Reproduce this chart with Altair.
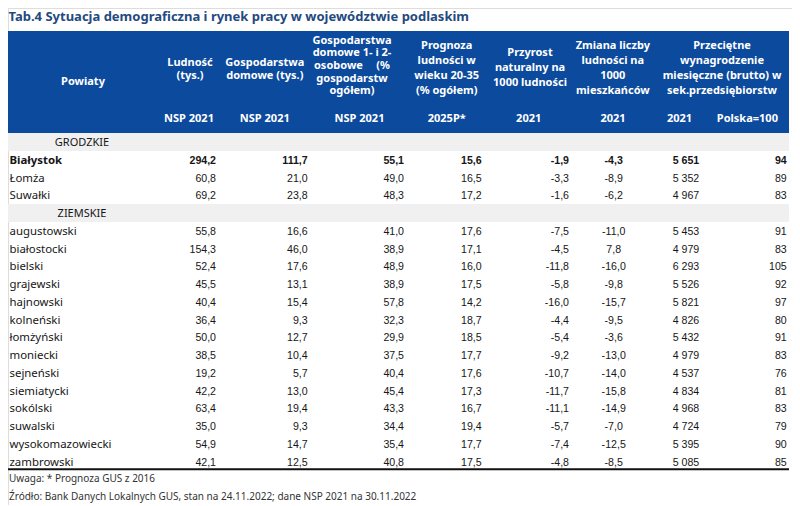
import altair as alt
import pandas as pd

# ---------------- data ----------------
title = "Tab.4 Sytuacja demograficzna i rynek pracy w województwie podlaskim"
group_labels = ["GRODZKIE", "ZIEMSKIE"]
powiaty = ["Białystok", "Łomża", "Suwałki",
           "augustowski", "białostocki", "bielski", "grajewski", "hajnowski",
           "kolneński", "łomżyński", "moniecki", "sejneński", "siemiatycki",
           "sokólski", "suwalski", "wysokomazowiecki", "zambrowski"]
ludnosc = [294.2, 60.8, 69.2, 55.8, 154.3, 52.4, 45.5, 40.4, 36.4, 50.0, 38.5,
           19.2, 42.2, 63.4, 35.0, 54.9, 42.1]
gospodarstwa = [111.7, 21.0, 23.8, 16.6, 46.0, 17.6, 13.1, 15.4, 9.3, 12.7, 10.4,
                5.7, 13.0, 19.4, 9.3, 14.7, 12.5]
gosp_1_2 = [55.1, 49.0, 48.3, 41.0, 38.9, 48.9, 38.9, 57.8, 32.3, 29.9, 37.5,
            40.4, 45.4, 43.3, 34.4, 35.4, 40.8]
prognoza = [15.6, 16.5, 17.2, 17.6, 17.1, 16.0, 17.5, 14.2, 18.7, 18.5, 17.7,
            17.6, 17.3, 16.7, 19.4, 17.7, 17.5]
przyrost = [-1.9, -3.3, -1.6, -7.5, -4.5, -11.8, -5.8, -16.0, -4.4, -5.4, -9.2,
            -10.7, -11.7, -11.1, -5.7, -7.4, -4.8]
zmiana = [-4.3, -8.9, -6.2, -11.0, 7.8, -16.0, -9.8, -15.7, -9.5, -3.6, -13.0,
          -14.0, -15.8, -14.9, -7.0, -12.5, -8.5]
wynagrodzenie = [5651, 5352, 4967, 5453, 4979, 6293, 5526, 5821, 4826, 5432, 4979,
                 4537, 4834, 4968, 4724, 5395, 5085]
polska100 = [94, 89, 83, 91, 83, 105, 92, 97, 80, 91, 83, 76, 81, 83, 79, 90, 85]

header_powiaty = "Powiaty"
header_ludnosc = ["Ludność", "(tys.)"]
header_gosp = ["Gospodarstwa", "domowe (tys.)"]
header_gosp12 = ["Gospodarstwa", "domowe 1- i 2-", "osobowe", "(%", "gospodarstw", "ogółem)"]
header_prognoza = ["Prognoza", "ludności w", "wieku 20-35", "(% ogółem)"]
header_przyrost = ["Przyrost", "naturalny na", "1000 ludności"]
header_zmiana = ["Zmiana liczby", "ludności na", "1000", "mieszkańców"]
header_wyn = ["Przeciętne", "wynagrodzenie", "miesięczne (brutto) w", "sek.przedsiębiorstw"]
subheaders = ["NSP 2021", "NSP 2021", "NSP 2021", "2025P*", "2021", "2021", "2021", "Polska=100"]
notes = ["Uwaga: * Prognoza GUS z 2016",
         "Źródło: Bank Danych Lokalnych GUS, stan na 24.11.2022; dane NSP 2021 na 30.11.2022"]

# ---------------- layout ----------------
BLUE = "#0b4a9d"
TITLE_C = "#24497f"
TXT = "#161616"
ROW0 = 143.0
ROWH = 17.75
LEFT, RIGHT = 8, 789


def fmt1(v):
    return f"{v:.1f}".replace(".", ",")


def fmt_thou(v):
    return f"{v:,}".replace(",", " ")


# row index of each powiat (groups occupy index 0 and 4)
row_idx = [1, 2, 3] + list(range(5, 19))
row_y = [ROW0 + ROWH * i for i in row_idx]

# columns: (values, formatter, anchor x, alignment)
cols = [
    (ludnosc, fmt1, 216, "right"),
    (gospodarstwa, fmt1, 307.7, "right"),
    (gosp_1_2, fmt1, 404, "right"),
    (prognoza, fmt1, 481.7, "right"),
    (przyrost, fmt1, 569, "right"),
    (zmiana, fmt1, 613.7, "center"),
    (wynagrodzenie, fmt_thou, 686, "center"),
    (polska100, str, 786.7, "right"),
]

body = []
for i, name in enumerate(powiaty):
    w = "bold" if name == "Białystok" else "normal"
    body.append(dict(x=9.5, y=row_y[i], t=name, a="left", w=w, kind="name"))
    for vals, f, cx, al in cols:
        body.append(dict(x=cx, y=row_y[i], t=f(vals[i]), a=al, w=w, kind="num"))
body_df = pd.DataFrame(body)

groups_df = pd.DataFrame(dict(x=[82, 82], y=[ROW0, ROW0 + 4 * ROWH], t=group_labels))

hdr = []
hdr.append(dict(x=83, y=82, t=header_powiaty, a="center"))
for t, y in zip(header_ludnosc, [63, 76]):
    hdr.append(dict(x=190, y=y, t=t, a="center"))
for t, y in zip(header_gosp, [63, 76]):
    hdr.append(dict(x=264.8, y=y, t=t, a="center"))
g12_y = [40.7, 53.3, 66, 66, 78.7, 91.3]
g12_x = [352, 352, 314, 390, 352, 352]
g12_a = ["center", "center", "left", "right", "center", "center"]
for t, x, y, a in zip(header_gosp12, g12_x, g12_y, g12_a):
    hdr.append(dict(x=x, y=y, t=t, a=a))
four_y = [45.7, 61, 76, 90.7]
for t, y in zip(header_prognoza, four_y):
    hdr.append(dict(x=446.7, y=y, t=t, a="center"))
for t, y in zip(header_przyrost, [53.3, 68, 82.7]):
    hdr.append(dict(x=530, y=y, t=t, a="center"))
for t, y in zip(header_zmiana, four_y):
    hdr.append(dict(x=612.8, y=y, t=t, a="center"))
for t, y in zip(header_wyn, four_y):
    hdr.append(dict(x=722, y=y, t=t, a="center"))
for t, x in zip(subheaders, [189, 264.8, 359.5, 446.7, 528.7, 613, 679.5, 747.4]):
    hdr.append(dict(x=x, y=119, t=t, a="center"))
hdr_df = pd.DataFrame(hdr)

rects_df = pd.DataFrame(dict(
    x=[LEFT, LEFT, LEFT], x2=[RIGHT, RIGHT, RIGHT],
    y=[31, 133, 133 + 4 * ROWH], y2=[133, 151, 151 + 4 * ROWH],
    fill=[BLUE, "#f0f0f0", "#f0f0f0"]))

rule_df = pd.DataFrame(dict(x=[LEFT], x2=[RIGHT], y=[469.3]))
notes_df = pd.DataFrame(dict(x=[9, 9], y=[479.3, 496.5], t=notes))
title_df = pd.DataFrame(dict(x=[8.5], y=[17], t=[title]))

XS = alt.Scale(domain=[0, 800], range=[-8, 792], zero=False, nice=False)
YS = alt.Scale(domain=[0, 506], range=[-8, 498], zero=False, nice=False)


def X(f="x"):
    return alt.X(f"{f}:Q", scale=XS, axis=None)


def Y(f="y"):
    return alt.Y(f"{f}:Q", scale=YS, axis=None)


rects = alt.Chart(rects_df).mark_rect().encode(
    x=X(), x2="x2:Q", y=Y(), y2="y2:Q", color=alt.Color("fill:N", scale=None))
rule = alt.Chart(rule_df).mark_rule(strokeWidth=2, color="#111").encode(
    x=X(), x2="x2:Q", y=Y())

title_l = alt.Chart(title_df).mark_text(
    align="left", baseline="middle", font="Noto Sans", fontWeight="bold",
    fontSize=13, color=TITLE_C).encode(x=X(), y=Y(), text="t:N")

layers = [rects, rule, title_l]
for a in ["left", "center", "right"]:
    d = hdr_df[hdr_df.a == a]
    if len(d):
        layers.append(alt.Chart(d).mark_text(
            align=a, baseline="middle", font="Noto Sans", fontWeight="bold",
            fontSize=11, color="white").encode(x=X(), y=Y(), text="t:N"))

layers.append(alt.Chart(groups_df).mark_text(
    align="center", baseline="middle", font="Noto Sans", fontSize=11,
    color=TXT).encode(x=X(), y=Y(), text="t:N"))

for kind, font, fs in [("name", "Noto Sans", 11.4), ("num", "Liberation Sans", 10.6)]:
    for a in ["left", "center", "right"]:
        for w in ["normal", "bold"]:
            d = body_df[(body_df.kind == kind) & (body_df.a == a) & (body_df.w == w)]
            if len(d):
                layers.append(alt.Chart(d).mark_text(
                    align=a, baseline="middle", font=font, fontSize=fs,
                    fontWeight=w, color=TXT).encode(x=X(), y=Y(), text="t:N"))

layers.append(alt.Chart(notes_df).mark_text(
    align="left", baseline="middle", font="Noto Sans", fontSize=10,
    color="#333333").encode(x=X(), y=Y(), text="t:N"))

chart = alt.layer(*layers).properties(
    width=784, height=497, padding=0,
    autosize=alt.AutoSizeParams(type="none"),
).configure_view(stroke=None).configure(background="white")

chart.save("out.html", embed_options={"renderer": "svg", "actions": False})
